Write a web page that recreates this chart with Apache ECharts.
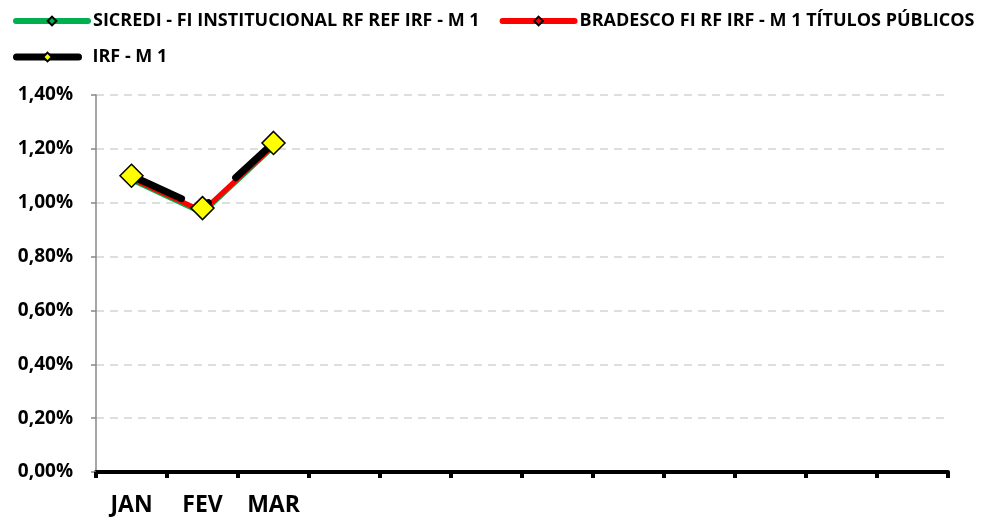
<!DOCTYPE html>
<html>
<head>
<meta charset="utf-8">
<script src="https://cdn.jsdelivr.net/npm/echarts@6/dist/echarts.min.js"></script>
<style>
  html, body { margin: 0; padding: 0; background: #fff; }
  #main { width: 982px; height: 518px; }
</style>
</head>
<body>
<div id="main"></div>
<script>
  // meses (só os três primeiros com rótulo)
  const months = ['JAN', 'FEV', 'MAR', '', '', '', '', '', '', '', '', ''];
  const yTicks = [0, 0.2, 0.4, 0.6, 0.8, 1.0, 1.2, 1.4];

  const sicredi = [1.085, 0.962, 1.208];
  const bradesco = [1.09, 0.968, 1.213];
  const irf = [1.10, 0.98, 1.222];

  const names = [
    'SICREDI - FI INSTITUCIONAL RF REF IRF - M 1',
    'BRADESCO FI RF IRF - M 1 TÍTULOS PÚBLICOS',
    'IRF - M 1'
  ];

  const font = 'Open Sans';
  let chart = echarts.init(document.getElementById('main'));

  let option = {
    animation: false,
    textStyle: { fontFamily: font },
    legend: [{
      left: 8,
      top: 7,
      itemWidth: 72,
      itemHeight: 11,
      itemGap: 20,
      textStyle: { fontSize: 18, fontWeight: 'bold', color: '#000', fontFamily: font },
      data: [
        { name: names[0], lineStyle: { type: 'solid', width: 6, cap: 'round' } },
        { name: names[1], lineStyle: { type: 'solid', width: 6, cap: 'round' } }
      ]
    }, {
      left: 8,
      top: 43,
      itemWidth: 62,
      itemHeight: 11,
      textStyle: { fontSize: 18, fontWeight: 'bold', color: '#000', fontFamily: font, padding: [0, 0, 0, 9] },
      data: [
        { name: names[2], lineStyle: { type: 'solid', width: 7, cap: 'round' } }
      ]
    }],
    grid: {
      left: 96,
      right: 34,
      top: 95,
      bottom: 46
    },
    xAxis: {
      type: 'category',
      data: months,
      boundaryGap: true,
      axisLine: { lineStyle: { color: '#000', width: 4 } },
      axisTick: { show: true, length: 6, lineStyle: { color: '#000', width: 4 } },
      axisLabel: {
        interval: 0,
        margin: 22,
        fontSize: 23,
        fontWeight: 'bold',
        color: '#000',
        fontFamily: font
      }
    },
    yAxis: {
      type: 'value',
      min: yTicks[0],
      max: yTicks[yTicks.length - 1],
      interval: 0.2,
      axisLine: { show: true, lineStyle: { color: '#888', width: 1.5 } },
      axisTick: { show: true, length: 5, lineStyle: { color: '#888', width: 1.5 } },
      splitLine: {
        lineStyle: { color: '#d4d4d4', width: 1.5, type: [8, 6] }
      },
      axisLabel: {
        margin: 23,
        fontSize: 19,
        fontWeight: 'bold',
        color: '#000',
        fontFamily: font,
        formatter: function (v) {
          return v.toFixed(2).replace('.', ',') + '%';
        }
      }
    },
    series: [{
      name: names[0],
      type: 'line',
      data: sicredi,
      symbol: 'diamond',
      symbolSize: 9,
      lineStyle: { color: '#00b050', width: 5, cap: 'round' },
      itemStyle: { color: '#00b050', borderColor: '#000', borderWidth: 1.5 }
    }, {
      name: names[1],
      type: 'line',
      data: bradesco,
      symbol: 'diamond',
      symbolSize: 9,
      lineStyle: { color: '#ff0000', width: 5, cap: 'round' },
      itemStyle: { color: '#ff0000', borderColor: '#000', borderWidth: 1.5 }
    }, {
      name: names[2],
      type: 'line',
      data: irf,
      symbol: 'diamond',
      symbolSize: 23,
      lineStyle: { color: '#000', width: 7, cap: 'round', type: [55, 24, 7, 37] },
      itemStyle: { color: '#ffff00', borderColor: '#000', borderWidth: 1.5 }
    }]
  };
  chart.setOption(option);
</script>
</body>
</html>
